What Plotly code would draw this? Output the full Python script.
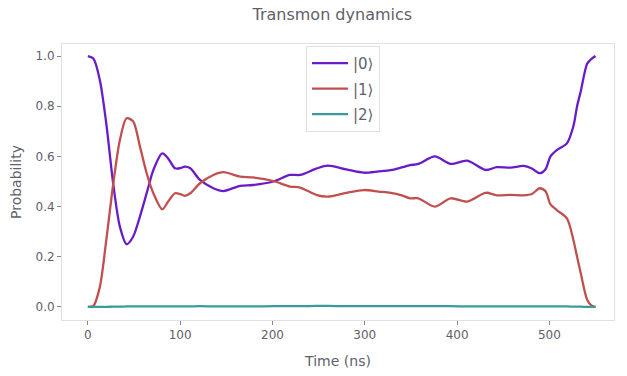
import plotly.graph_objects as go

time_ns = [0, 6, 13, 20, 27.5, 34.7, 42, 49, 56.4, 63.7, 71, 80.6, 87, 94.4, 100, 105, 111,
           121.5, 136, 147, 165, 179, 201, 219, 230, 248, 260, 280, 299, 315, 328, 340, 349,
           358, 376, 393, 411, 431, 443, 458, 472, 481, 489.5, 496, 501, 508, 519, 526, 530,
           534, 541, 546, 550]
p0 = [1.0, 0.99, 0.904, 0.73, 0.49, 0.32, 0.25, 0.28, 0.36, 0.453, 0.546, 0.612, 0.592,
      0.553, 0.553, 0.559, 0.553, 0.506, 0.473, 0.462, 0.483, 0.486, 0.50, 0.526, 0.526,
      0.552, 0.563, 0.548, 0.535, 0.54, 0.545, 0.556, 0.565, 0.57, 0.60, 0.57, 0.583, 0.546,
      0.557, 0.555, 0.562, 0.552, 0.533, 0.55, 0.599, 0.625, 0.652, 0.72, 0.80, 0.86, 0.97,
      0.99, 1.0]
p1 = [0.0, 0.004, 0.08, 0.267, 0.49, 0.665, 0.752, 0.74, 0.64, 0.533, 0.453, 0.389, 0.42,
      0.453, 0.45, 0.443, 0.453, 0.493, 0.526, 0.537, 0.519, 0.516, 0.502, 0.48, 0.476,
      0.446, 0.44, 0.455, 0.466, 0.46, 0.455, 0.445, 0.433, 0.433, 0.40, 0.433, 0.42, 0.455,
      0.445, 0.447, 0.445, 0.45, 0.473, 0.46, 0.41, 0.386, 0.353, 0.267, 0.2, 0.134, 0.028,
      0.005, 0.0]
p2 = [0.0, 0.0, 0.0, 0.0005, 0.001, 0.001, 0.002, 0.002, 0.002, 0.002, 0.002, 0.002, 0.002,
      0.002, 0.002, 0.002, 0.002, 0.003, 0.002, 0.002, 0.002, 0.002, 0.003, 0.003, 0.003,
      0.004, 0.004, 0.003, 0.003, 0.003, 0.003, 0.003, 0.003, 0.003, 0.003, 0.003, 0.002,
      0.002, 0.002, 0.002, 0.002, 0.002, 0.002, 0.002, 0.002, 0.002, 0.002, 0.001, 0.001,
      0.001, 0.0, 0.0, 0.0]
labels = ["|0⟩", "|1⟩", "|2⟩"]
colors = ["#6a1bc8", "#c0504f", "#3a9b9b"]
x_ticks = [0, 100, 200, 300, 400, 500]
y_ticks = [0.0, 0.2, 0.4, 0.6, 0.8, 1.0]

fig = go.Figure()
for i, (lab, ys, col) in enumerate(zip(labels, [p0, p1, p2], colors)):
    fig.add_trace(go.Scatter(x=time_ns, y=ys, mode="lines", name=lab, legendgroup=f"g{i}",
                             line=dict(color=col, width=2.3, shape="spline", smoothing=0.8)))

font_col = "#5f5f6a"
fig.update_layout(
    width=627, height=376,
    margin=dict(l=62, r=13, t=44, b=56, autoexpand=False),
    paper_bgcolor="white", plot_bgcolor="white",
    font=dict(family="DejaVu Sans", color=font_col, size=12),
    title=dict(text="Transmon dynamics", x=0.53, xanchor="center", y=0.963, yanchor="middle",
               font=dict(size=16, color=font_col)),
    legend=dict(x=0.442, y=0.993, xanchor="left", yanchor="top", bgcolor="white",
                bordercolor="#e0e0e0", borderwidth=1, font=dict(size=15, color=font_col),
                tracegroupgap=3, itemwidth=36, entrywidth=70),
    xaxis=dict(range=[-28, 570], tickvals=x_ticks, showgrid=False, zeroline=False,
               showline=True, linecolor="#e0e0e0", mirror=True, ticks="outside", automargin=False,
               ticklen=4, tickcolor="#888", title=dict(text="Time (ns)", font=dict(size=14), standoff=14)),
    yaxis=dict(range=[-0.052, 1.048], tickvals=y_ticks, tickformat=".1f", showgrid=False,
               zeroline=False, showline=True, linecolor="#e0e0e0", mirror=True, automargin=False,
               ticks="outside", ticklen=4, tickcolor="#888",
               title=dict(text="Probability", font=dict(size=14), standoff=10)),
)
fig.write_html("out.html", config={"displayModeBar": False},
               post_script="document.body.style.margin='0';")
